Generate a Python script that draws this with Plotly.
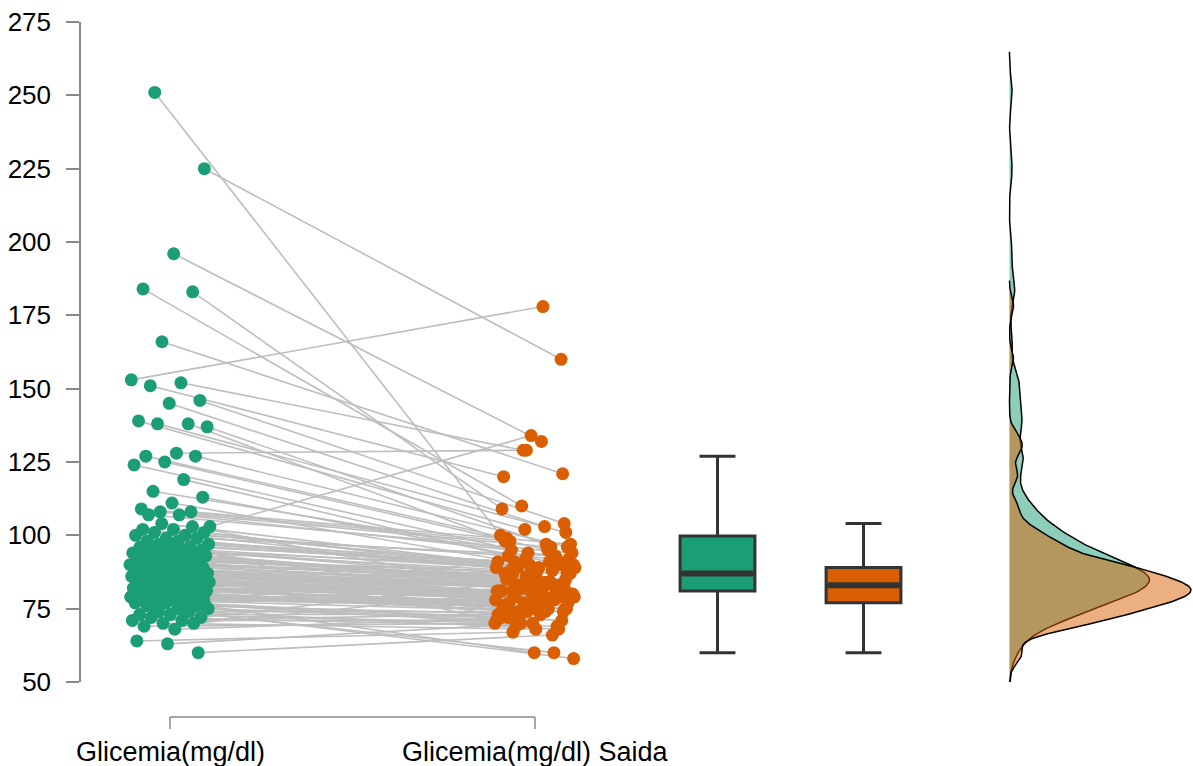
import numpy as np
import plotly.graph_objects as go

# Paired glucose readings (mg/dl): entry i of `pre` and `post` belong to the same subject
pre = [
    251, 225, 196, 184, 183, 166, 153, 152, 151, 146, 145, 139, 138, 138, 137, 128, 127, 127,
    125, 124, 119, 115, 113, 111, 109, 108, 108, 103, 107, 107, 60, 63, 64, 74, 75, 76,
    68, 69, 70, 70, 71, 71, 72, 72, 73, 73, 74, 74, 75, 75, 76, 76, 77, 77, 77,
    78, 78, 78, 78, 79, 79, 79, 79, 80, 80, 80, 80, 81, 81, 81, 81, 81, 82, 82,
    82, 82, 82, 83, 83, 83, 83, 83, 84, 84, 84, 84, 84, 85, 85, 85, 85, 85, 86,
    86, 86, 86, 86, 87, 87, 87, 87, 87, 87, 87, 87, 87, 88, 88, 88, 88, 89, 89,
    89, 89, 90, 90, 90, 90, 91, 91, 91, 92, 92, 92, 93, 93, 93, 94, 94, 94, 95,
    95, 95, 96, 96, 96, 97, 97, 98, 98, 99, 99, 100, 100, 101, 101, 102, 102, 103, 104,
]
post = [
    100, 160, 132, 110, 109, 121, 178, 129, 120, 104, 103, 102, 98, 101, 97, 129, 99, 96,
    95, 94, 93, 92, 91, 90, 98, 97, 96, 134, 95, 94, 66, 70, 67, 58, 60, 60,
    72, 70, 82, 68, 73, 71, 69, 85, 70, 73, 68, 74, 71, 72, 90, 73, 70, 72, 71,
    77, 82, 76, 74, 78, 77, 76, 75, 74, 92, 76, 75, 77, 74, 76, 77, 75, 76, 77,
    80, 78, 81, 88, 80, 78, 86, 81, 80, 79, 78, 80, 79, 78, 80, 79, 78, 80, 79,
    83, 81, 82, 83, 74, 81, 83, 82, 83, 81, 82, 83, 82, 81, 83, 82, 83, 75, 83,
    79, 84, 87, 85, 84, 86, 85, 87, 84, 86, 72, 87, 84, 85, 86, 87, 84, 85, 86,
    89, 88, 77, 87, 90, 89, 88, 91, 89, 93, 88, 69, 89, 92, 88, 89, 91, 79, 89,
]

group_labels = ["Glicemia(mg/dl)", "Glicemia(mg/dl) Saida"]
group_colors = ["#1b9e77", "#d95f02"]
density_fills = ["rgba(27,158,119,0.5)", "rgba(217,95,2,0.5)"]
y_ticks = [50, 75, 100, 125, 150, 175, 200, 225, 250, 275]

FONT = "Liberation Sans, Arial, Helvetica, sans-serif"
AXIS_GREY = "#8a8a8a"

# layout of the x axis (data units)
point_x = [1.0, 2.0]
box_x = [2.5, 2.9]
box_w = 0.205
dens_base = 3.30
dens_peak_w = 0.497
jitter_w = 0.11
x_range = [1 - 89 / 365, 1 - 89 / 365 + 1112 / 365]

series = [np.array(pre, float), np.array(post, float)]


def box_stats(v):
    q1, med, q3 = np.percentile(v, [25, 50, 75])
    iqr = q3 - q1
    lo = v[v >= q1 - 1.5 * iqr].min()
    hi = v[v <= q3 + 1.5 * iqr].max()
    return q1, med, q3, lo, hi


def kde(v):
    n = len(v)
    q1, q3 = np.percentile(v, [25, 75])
    bw = 0.9 * min(v.std(ddof=1), (q3 - q1) / 1.34) * n ** -0.2
    grid = np.linspace(v.min() - 3 * bw, v.max() + 3 * bw, 512)
    d = np.exp(-0.5 * ((grid[:, None] - v[None, :]) / bw) ** 2).sum(1)
    d /= n * bw * np.sqrt(2 * np.pi)
    return grid, d


def jitter(n, phase, step):
    k = np.arange(n)
    return ((k * step + phase) % 1.0) * 2 - 1


fig = go.Figure()

# jittered x positions of the paired points
xs = [point_x[0] + jitter_w * jitter(len(pre), 0.31, 0.6180339887),
      point_x[1] + jitter_w * jitter(len(post), 0.07, 0.7548776662)]

# connecting lines between the two measurements of each subject
lx, ly = [], []
for i in range(len(pre)):
    lx += [xs[0][i], xs[1][i], None]
    ly += [pre[i], post[i], None]
fig.add_trace(go.Scatter(x=lx, y=ly, mode="lines",
                         line=dict(color="#bebebe", width=1.6),
                         hoverinfo="skip", showlegend=False))

for g in range(2):
    fig.add_trace(go.Scatter(x=xs[g], y=series[g], mode="markers",
                             marker=dict(color=group_colors[g], size=13, line=dict(width=0)),
                             name=group_labels[g], showlegend=False))

# box plots
for g in range(2):
    q1, med, q3, lo, hi = box_stats(series[g])
    fig.add_trace(go.Box(x=[box_x[g]], q1=[q1], median=[med], q3=[q3],
                         lowerfence=[lo], upperfence=[hi], width=box_w,
                         fillcolor=group_colors[g], line=dict(color="#333333", width=3),
                         whiskerwidth=0.48, boxpoints=False, showlegend=False,
                         name=group_labels[g]))
    fig.add_trace(go.Scatter(x=[box_x[g] - box_w / 2 + 0.004, box_x[g] + box_w / 2 - 0.004],
                             y=[med, med], mode="lines",
                             line=dict(color="#333333", width=6),
                             hoverinfo="skip", showlegend=False))

# half densities sharing one width scale
dens = [kde(s) for s in series]
scale = dens_peak_w / max(d.max() for _, d in dens)
for g in range(2):
    grid, d = dens[g]
    px = np.concatenate([[dens_base], dens_base + d * scale, [dens_base]])
    py = np.concatenate([[grid[0]], grid, [grid[-1]]])
    fig.add_trace(go.Scatter(x=px, y=py, mode="lines", fill="toself",
                             fillcolor=density_fills[g],
                             line=dict(color="black", width=1.5),
                             hoverinfo="skip", showlegend=False))

# range-frame x axis with category labels
plot_h = 660
y_line = -35 / plot_h
y_tick_end = -47 / plot_h
fig.add_shape(type="line", xref="x", yref="paper", x0=point_x[0], x1=point_x[1],
              y0=y_line, y1=y_line, line=dict(color=AXIS_GREY, width=1.5))
for xp, lab in zip(point_x, group_labels):
    fig.add_shape(type="line", xref="x", yref="paper", x0=xp, x1=xp,
                  y0=y_line, y1=y_tick_end, line=dict(color=AXIS_GREY, width=1.5))
    fig.add_annotation(x=xp, y=-70 / plot_h, xref="x", yref="paper", text=lab,
                       showarrow=False, xanchor="center", yanchor="middle",
                       font=dict(family=FONT, size=27, color="black"))

fig.update_layout(
    width=1193, height=766, autosize=False,
    margin=dict(l=81, r=0, t=22, b=84),
    plot_bgcolor="white", paper_bgcolor="white",
    xaxis=dict(range=x_range, visible=False, fixedrange=True),
    yaxis=dict(range=[50, 275], tickvals=y_ticks, showgrid=False, zeroline=False,
               showline=True, linecolor=AXIS_GREY, linewidth=1.5,
               ticks="outside", ticklen=13, tickwidth=1.5, tickcolor=AXIS_GREY,
               ticklabelstandoff=10,
               tickfont=dict(family=FONT, size=26, color="black"), fixedrange=True),
    font=dict(family=FONT),
)

fig.write_html("out.html")
